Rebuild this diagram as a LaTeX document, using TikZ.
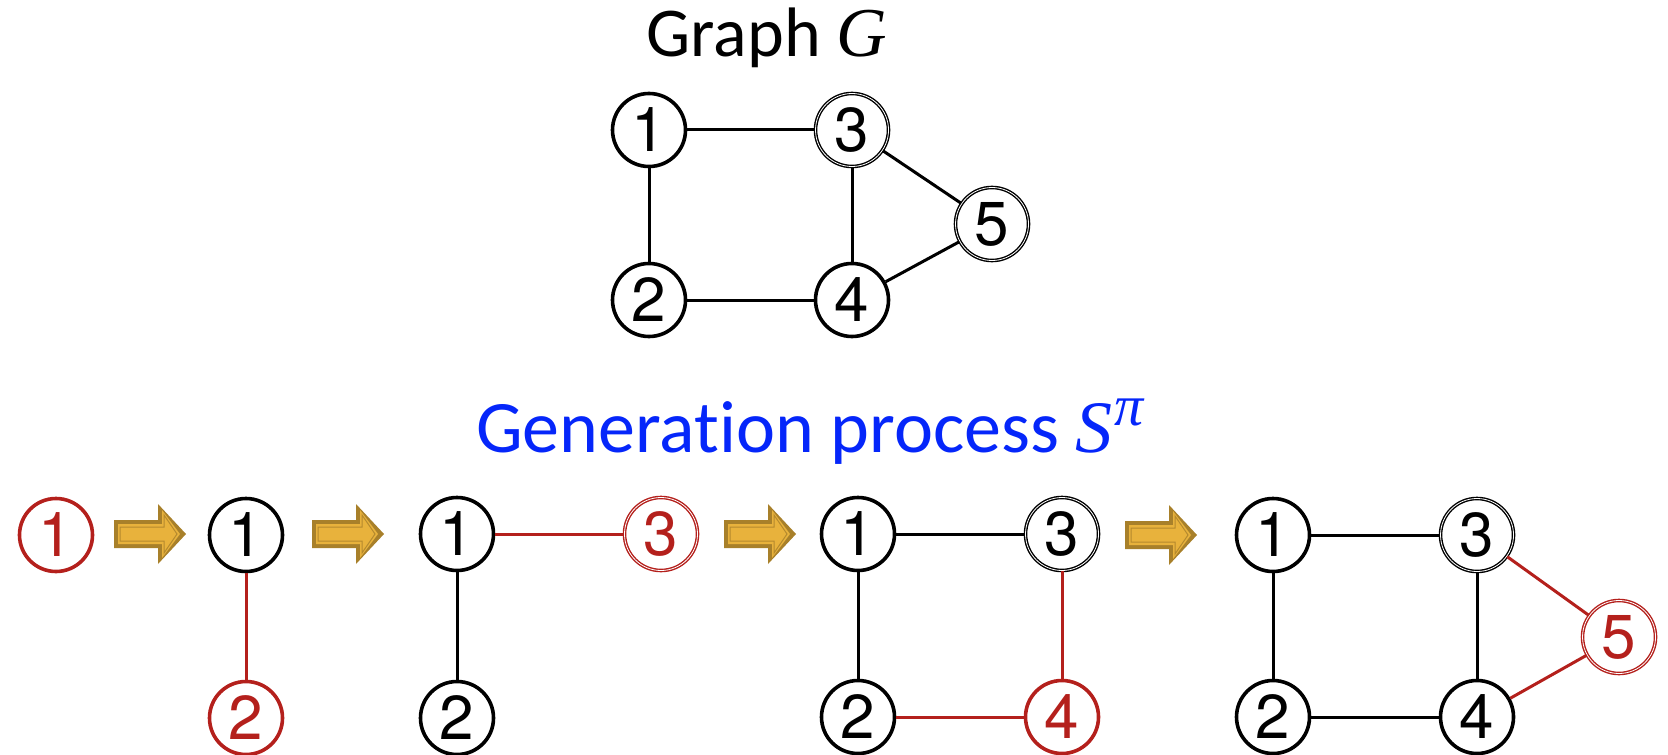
\documentclass[tikz,border=0pt]{standalone}
\usepackage{fontspec}
\setmainfont[Ligatures=NoCommon]{Carlito}
\newfontfamily\digitfont{TeX Gyre Heros}
\newfontfamily\varfont{Liberation Serif}

\definecolor{newred}{RGB}{180,32,28}
\definecolor{procblue}{RGB}{5,38,250}
\definecolor{arrowdark}{RGB}{168,128,42}
\definecolor{arrowlight}{RGB}{232,178,60}

\newcommand{\var}[1]{{\varfont\itshape #1}}

\tikzset{
  vertex/.style={draw,circle,line width=1.8pt,minimum size=36.5pt,inner sep=0pt,
    font=\digitfont\fontsize{31pt}{31pt}\selectfont},
  dvertex/.style={vertex,line width=0.7pt,double=white,double distance=0.4pt},
  newvertex/.style={vertex,draw=newred,text=newred},
  dnewvertex/.style={dvertex,draw=newred,text=newred},
  link/.style={draw,line width=1.5pt},
  newlink/.style={draw,line width=1.5pt,newred},
  title/.style={anchor=base},
  goldarrow/.pic={
    \fill[arrowdark] (-36,-14) -- (8,-14) -- (8,-30) -- (36,0) -- (8,30)
      -- (8,14) -- (-36,14) -- cycle;
    \fill[arrowlight] (-32,-10) -- (12,-10) -- (12,-24) -- (30,0) -- (12,24)
      -- (12,10) -- (-32,10) -- cycle;
    \draw[arrowdark!80!arrowlight,line width=0.5pt] (-30,-7) -- (14,-7) -- (14,-19)
      -- (27,0) -- (14,19) -- (14,7) -- (-30,7) -- cycle;
  }
}

\begin{document}
\begin{tikzpicture}[x=0.5pt,y=-0.5pt]
\useasboundingbox (0,0) rectangle (1668,754);

% graph G
\node[title,font=\fontsize{35pt}{40pt}\selectfont] (gtitle) at (767,57) {Graph \var{G}};
\node[vertex] (g1) at (649,130) {1};
\node[vertex] (g2) at (649,300) {2};
\node[dvertex] (g3) at (852,130) {3};
\node[vertex] (g4) at (852,300) {4};
\node[dvertex] (g5) at (992,224) {5};

\path[link] (g1) -- (g3);
\path[link] (g1) -- (g2);
\path[link] (g2) -- (g4);
\path[link] (g3) -- (g4);
\path[link] (g3) -- (g5);
\path[link] (g4) -- (g5);

% generation process
\node[title,text=procblue,font=\fontsize{37pt}{40pt}\selectfont] (ptitle) at (810,452)
  {Generation process \var{S}\kern1pt\raisebox{0.36em}{\fontsize{29pt}{29pt}\selectfont\var{π}}};

\node[newvertex] (a1) at (56,535) {1};
\pic (ar1) at (150,534) {goldarrow};

\node[vertex] (b1) at (246,535) {1};
\node[newvertex] (b2) at (246,718) {2};
\path[newlink] (b1) -- (b2);
\pic (ar2) at (348,534) {goldarrow};

\node[vertex] (c1) at (457,534) {1};
\node[vertex] (c2) at (457,718) {2};
\node[dnewvertex] (c3) at (661,534) {3};
\path[link] (c1) -- (c2);
\path[newlink] (c1) -- (c3);
\pic (ar3) at (760,534) {goldarrow};

\node[vertex] (d1) at (858,534) {1};
\node[vertex] (d2) at (858,717) {2};
\node[dvertex] (d3) at (1062,534) {3};
\node[newvertex] (d4) at (1062,717) {4};
\path[link] (d1) -- (d3);
\path[link] (d1) -- (d2);
\path[newlink] (d3) -- (d4);
\path[newlink] (d2) -- (d4);
\pic (ar4) at (1161,535) {goldarrow};

\node[vertex] (e1) at (1273,535) {1};
\node[vertex] (e2) at (1273,717) {2};
\node[dvertex] (e3) at (1477,535) {3};
\node[vertex] (e4) at (1477,717) {4};
\node[dnewvertex] (e5) at (1619,637) {5};
\path[link] (e1) -- (e3);
\path[link] (e1) -- (e2);
\path[link] (e2) -- (e4);
\path[link] (e3) -- (e4);
\path[newlink] (e3) -- (e5);
\path[newlink] (e4) -- (e5);
\end{tikzpicture}
\end{document}
